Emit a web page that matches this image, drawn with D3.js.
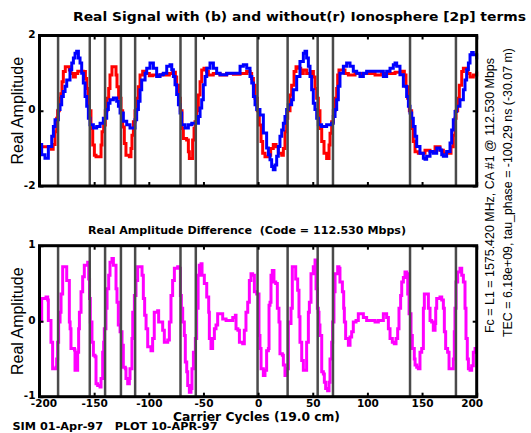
<!DOCTYPE html>
<html>
<head>
<meta charset="utf-8">
<script src="https://cdnjs.cloudflare.com/ajax/libs/d3/7.8.5/d3.min.js"></script>
<style>
  body { margin: 0; background: #fff; }
  svg { display: block; }
  .bold-label { font-family: "DejaVu Sans", Verdana, sans-serif; font-weight: bold; fill: #000; }
  .axis-name { font-family: "Liberation Sans", Arial, sans-serif; font-size: 16px; fill: #000; }
  .side-note { font-family: "Liberation Sans Narrow", "Liberation Sans", Arial, sans-serif; font-size: 12.5px; fill: #000; }
</style>
</head>
<body>
<svg id="chart" width="531" height="433"></svg>
<script>
/*global d3
 */

// carrier-cycle axis
const xTicks = [-200, -150, -100, -50, 0, 50, 100, 150, 200];
const topYTicks = [-2, 0, 2];
const bottomYTicks = [-1, 0, 1];

// chip transitions (carrier cycles)
const chipEdges = [-183, -154, -140, -125.5, -112.5, -71, -57, -0.5, 27, 54.5, 68.5, 139, 181];

// real signal without ionosphere (r)
const redSignal = [
  [-200, -0.96], [-191, -0.96], [-189, -1.02], [-187.5, -0.9], [-185.8, -0.56], [-184.3, -0.2], [-183.4, 0],
  [-181.9, 0.33], [-180.5, 0.45], [-179.4, 0.77], [-178.2, 1.04], [-176.4, 1.17], [-174.2, 1.17], [-172.7, 1.08],
  [-171.2, 0.99], [-169, 0.9], [-167.2, 0.99], [-165, 1.05], [-159.9, 1.04], [-158, 0.86], [-156.8, 0.59],
  [-155.6, 0.33], [-154.4, 0], [-152.9, -0.47], [-151.3, -0.91], [-149.8, -1.18], [-148.3, -1.22], [-145.3, -1.22],
  [-143.7, -0.91], [-142.8, -0.56], [-141.3, -0.38], [-139.8, 0], [-138.2, 0.33], [-136.7, 0.59], [-135.5, 0.95],
  [-133.7, 1.17], [-131.5, 1.17], [-130, 0.95], [-129.1, 0.64], [-127.6, 0.33], [-125.4, 0], [-123.9, -0.43],
  [-122.4, -0.87], [-120.9, -1.18], [-117.8, -1.22], [-116.3, -1.0], [-115.4, -0.65], [-114.1, -0.29], [-112.6, 0],
  [-111.1, 0.33], [-109.6, 0.64], [-108, 0.95], [-105.6, 1.05], [-102.5, 0.99], [-99.5, 0.93], [-96.5, 0.95],
  [-87.3, 0.97], [-84.3, 0.95], [-81.2, 0.99], [-78.2, 1.02], [-75.7, 0.9], [-74.5, 0.68], [-72.7, 0.33], [-71.1, 0],
  [-69.6, -0.47], [-68.4, -0.74], [-65.4, -0.78], [-63.8, -1.09], [-62.9, -1.27], [-60.8, -1.27], [-59.9, -0.78],
  [-58.6, -0.47], [-57.7, -0.29], [-56.2, 0], [-54.7, 0.42], [-53.1, 0.77], [-51.6, 1.08], [-49.5, 1.13], [-47, 1.04],
  [-45.5, 0.95], [-41, 0.99], [-34.9, 0.95], [-28.8, 0.99], [-22.6, 0.97], [-16.5, 0.99], [-10.5, 1.04], [-7.4, 0.99],
  [-5.9, 0.86], [-4.3, 0.68], [-2.8, 0.33], [-0.7, 0], [1.1, -0.38], [2.7, -0.82], [4.2, -1.13], [6.3, -1.22],
  [9.4, -1.18], [11.5, -1.0], [13.9, -0.9], [16.4, -0.96], [18.5, -1.13], [21.6, -1.18], [23.1, -1.0], [24.6, -0.56],
  [26.1, -0.2], [27.1, 0], [29.2, 0.42], [30.7, 0.68], [32.9, 1.04], [34.7, 1.17], [36.8, 1.13], [39, 0.99],
  [41.4, 1.08], [44.4, 0.99], [49, 1.04], [50.6, 0.9], [52.1, 0.59], [53.6, 0.33], [55.1, 0], [56.6, -0.47],
  [58.2, -0.82], [60.3, -1.13], [62.7, -1.27], [64.6, -1.27], [64.9, -0.91], [65.8, -0.6], [67.3, -0.29], [68.8, 0],
  [70.4, 0.33], [71.9, 0.59], [72.8, 0.95], [74, 1.08], [76.5, 1.08], [79.5, 0.99], [82.6, 0.95], [88.7, 0.99],
  [107, 0.95], [113, 0.99], [125.3, 1.02], [131.4, 1.05], [133.8, 0.95], [135.3, 0.64], [136.8, 0.33], [138.4, 0],
  [140.5, -0.47], [142, -0.82], [143.6, -1.09], [146.6, -1.13], [152.7, -1.05], [157.3, -1.09], [161.9, -0.96],
  [166.4, -1.05], [169.5, -1.13], [174.1, -1.13], [176.5, -0.96], [178.6, -0.65], [180.2, -0.2], [181.1, 0],
  [182.6, 0.33], [184.1, 0.68], [186.3, 1.04], [187.8, 1.13], [189.9, 1.13], [191.7, 0.99], [193.9, 0.9],
  [196.9, 0.95], [200, 1.04]
];

// real signal with ionosphere (b)
const blueSignal = [
  [-200, -0.9], [-198, -1.17], [-195, -1.26], [-191.9, -0.95], [-188.8, -0.68], [-187.3, -0.42], [-185.8, -0.24],
  [-182.7, 0.03], [-181.2, 0.16], [-179.7, 0.38], [-178.2, 0.51], [-176.6, 0.65], [-175.1, 0.82], [-172.1, 1.09],
  [-170.5, 1.27], [-169, 1.4], [-167.5, 1.53], [-166, 1.58], [-164.4, 1.4], [-162.9, 1.27], [-161.4, 1.0],
  [-159.9, 0.74], [-158.3, 0.38], [-156.8, 0.12], [-155.3, -0.2], [-153.8, -0.37], [-150.7, -0.46], [-147.7, -0.42],
  [-144.6, -0.33], [-141.6, -0.2], [-138.5, 0.03], [-137, 0.2], [-135.5, 0.29], [-132.4, 0.34], [-129.4, 0.25],
  [-127.8, 0.12], [-126.3, -0.06], [-123.3, -0.28], [-120.2, -0.37], [-117.2, -0.46], [-114.7, -0.46],
  [-112.6, -0.24], [-111.1, 0.03], [-109.5, 0.25], [-108, 0.56], [-106.5, 0.82], [-103.4, 1.0], [-101.9, 1.13],
  [-98.9, 1.27], [-97.3, 1.27], [-95.8, 1.13], [-92.8, 0.91], [-89.7, 0.96], [-86.7, 1.0], [-83.6, 1.18],
  [-80.6, 1.22], [-79, 1.09], [-77.5, 0.91], [-76, 0.69], [-74.5, 0.43], [-72.9, 0.16], [-71.4, -0.06],
  [-69.9, -0.37], [-66.8, -0.46], [-63.8, -0.37], [-60.7, -0.33], [-56.2, -0.33], [-54.6, -0.15], [-53.1, 0.07],
  [-51.6, 0.29], [-50.1, 0.69], [-48.5, 0.91], [-47, 1.13], [-44, 1.27], [-42.4, 1.27], [-40.9, 1.13], [-37.9, 1.0],
  [-34.8, 0.96], [-28.7, 1.0], [-19.6, 1.0], [-16.5, 1.18], [-13.5, 1.22], [-10.4, 1.13], [-7.4, 0.91],
  [-5.8, 0.74], [-4.3, 0.38], [-2.8, 0.16], [-1.3, 0.03], [1.7, -0.11], [4.8, -0.59], [7.8, -0.99], [9.4, -1.17],
  [10.9, -1.3], [12.4, -1.48], [13.9, -1.57], [15.5, -1.44], [17, -1.21], [18.5, -0.95], [20, -0.68], [21.6, -0.51],
  [23.1, -0.33], [24.6, -0.15], [26.1, 0.03], [27.6, 0.16], [30.7, 0.29], [32.2, 0.56], [35.3, 0.91], [38.3, 1.31],
  [41.4, 1.53], [42.9, 1.58], [44.4, 1.4], [46, 1.18], [47.5, 0.91], [49, 0.56], [50.5, 0.2], [52, 0.03],
  [53.6, -0.2], [55.1, -0.37], [58.1, -0.42], [62.7, -0.37], [67.3, -0.33], [68.8, -0.15], [70.4, 0.03],
  [71.9, 0.29], [73.4, 0.65], [74.9, 1.0], [78, 1.18], [81, 1.27], [82.6, 1.27], [84.1, 1.18], [87.1, 1.05],
  [90.2, 1.0], [93.2, 0.91], [96.3, 1.0], [99.3, 1.05], [111.5, 1.05], [114.6, 0.91], [117.6, 1.05], [120.7, 1.13],
  [123.7, 1.22], [125.3, 1.27], [126.8, 1.18], [129.8, 0.96], [132.9, 0.65], [135.9, 0.38], [137.5, 0.12],
  [139, -0.06], [140.5, -0.2], [142, -0.42], [143.6, -0.68], [145.1, -0.95], [148.1, -1.13], [151.2, -1.26],
  [152.7, -1.29], [154.2, -1.21], [157.3, -1.08], [160.3, -1.13], [163.4, -0.99], [166.4, -1.04], [168, -1.17],
  [169.5, -1.21], [172.5, -1.08], [175.6, -0.86], [177.1, -0.51], [178.6, -0.24], [180.2, -0.02], [181.7, 0.12],
  [184.7, 0.29], [187.8, 0.56], [189.3, 0.82], [190.8, 1.09], [192.4, 1.27], [193.9, 1.49], [195.4, 1.55],
  [196.9, 1.49], [200, 1.36]
];

// real amplitude difference
const diffSignal = [
  [-200, 0], [-198.5, 0], [-198, 0.3], [-194, 0.32], [-192.5, 0.28], [-191.9, 0.01], [-190.5, 0.01], [-189.5, -0.28],
  [-188.5, -0.28], [-188, -0.63], [-184.9, -0.61], [-184.3, -0.5], [-183.4, -0.28], [-182.5, -0.01], [-181.2, 0.12],
  [-180.3, 0.36], [-178.8, 0.72], [-175.7, 0.72], [-175.1, 0.54], [-173.3, 0.54], [-172.7, -0.01], [-172, -0.1],
  [-171.2, -0.36], [-168, -0.38], [-167.5, -0.65], [-166, -0.65], [-165.1, -0.41], [-164.2, -0.1], [-163.5, 0.12],
  [-162, 0.39], [-160.5, 0.59], [-159, 0.74], [-155.9, 0.78], [-155, 0.56], [-154.2, 0.3], [-153.5, -0.01],
  [-152, -0.28], [-150.7, -0.45], [-149.2, -0.47], [-148.3, -0.83], [-146.8, -0.85], [-144.6, -0.87], [-143.7, -0.76],
  [-142.2, -0.41], [-141.3, -0.28], [-140.7, -0.1], [-139.2, 0.17], [-138.2, 0.43], [-136.7, 0.61], [-135.5, 0.78],
  [-133.7, 0.83], [-132.4, 0.74], [-131.2, 0.74], [-130, 0.43], [-129.1, 0.25], [-127.9, -0.05], [-126.3, -0.14],
  [-124.5, -0.32], [-123.3, -0.61], [-121.5, -0.63], [-120.9, -0.76], [-119.3, -0.83], [-117.8, -0.76],
  [-117.2, -0.63], [-115.4, -0.23], [-114.7, 0.12], [-113.2, 0.34], [-111.7, 0.54], [-110.2, 0.72], [-107.1, 0.72],
  [-106.2, 0.61], [-105, 0.3], [-103.8, 0.08], [-102.5, -0.1], [-101, -0.34], [-98, -0.39], [-96.5, -0.23],
  [-95, 0.12], [-91.9, 0.14], [-91, -0.01], [-88.8, -0.01], [-87.3, -0.12], [-85.8, -0.28], [-82.7, -0.25],
  [-81.2, -0.01], [-79.7, 0.34], [-78.2, 0.54], [-76.6, 0.7], [-73.6, 0.72], [-72.1, 0.7], [-71.1, 0.34],
  [-70.2, 0.17], [-69, -0.01], [-67.5, -0.19], [-66.6, -0.54], [-65.3, -0.67], [-64.4, -0.85], [-62.9, -0.94],
  [-61.4, -0.89], [-60.5, -0.63], [-59.2, -0.41], [-57.4, -0.23], [-56.2, 0.17], [-54.9, 0.61], [-53.8, 0.74],
  [-52.2, 0.76], [-51.3, 0.61], [-49.2, 0.5], [-47, 0.32], [-45.2, 0.12], [-44.6, -0.23], [-43.1, -0.36],
  [-41.6, -0.23], [-40, -0.1], [-38.5, -0.05], [-37, 0.1], [-33.9, 0.1], [-32.4, 0.03], [-29.3, 0.01], [-26.3, 0.01],
  [-23.2, 0.05], [-20.8, 0.08], [-20.2, -0.1], [-18.5, -0.12], [-17.1, -0.28], [-14.1, -0.3], [-12.6, -0.12],
  [-11.1, 0.12], [-9.5, 0.25], [-8, 0.54], [-6.5, 0.63], [-5, 0.61], [-3.4, 0.39], [-1.3, 0.36], [0.8, -0.19],
  [1.7, -0.36], [2.7, -0.63], [4.8, -0.72], [6.3, -0.65], [7.8, -0.39], [9.4, -0.36], [10, 0.21], [10.9, 0.25],
  [11.8, 0.61], [13, 0.67], [14.5, 0.52], [16.1, 0.5], [17.6, 0.17], [19.1, -0.01], [20, -0.43], [22.2, -0.45],
  [23.1, -0.58], [24.6, -0.72], [26.1, -0.63], [27.7, -0.01], [29.2, -0.03], [30.1, 0.17], [31.3, 0.72],
  [33.8, 0.72], [34.4, 0.56], [36.2, 0.41], [37.4, 0.06], [38.3, -0.28], [39.9, -0.52], [41.4, -0.65], [43, -0.65],
  [44.4, -0.28], [46, 0.12], [46.9, 0.25], [48.4, 0.63], [50.5, 0.72], [52.1, 0.81], [53, 0.43], [54.2, 0.17],
  [55.1, 0.12], [55.7, -0.05], [56.6, -0.19], [58.2, -0.67], [59.7, -0.7], [60.6, -0.81], [61.8, -0.89],
  [63.6, -0.92], [64.9, -0.81], [65.8, -0.5], [67.3, -0.28], [68.2, -0.01], [69.4, 0.39], [70.4, 0.63], [72.8, 0.72],
  [74, 0.7], [74.9, 0.52], [77.1, 0.39], [78.3, 0.17], [78.9, -0.01], [80.1, -0.23], [82.6, -0.32], [84.1, -0.21],
  [85.6, -0.14], [87.1, -0.01], [89.6, 0.01], [91.7, 0.1], [94.8, 0.1], [96.3, 0.05], [99.3, 0.01], [105.4, 0.01],
  [107, -0.01], [110, 0.01], [114.6, 0.1], [117.6, 0.05], [119.2, -0.1], [120.7, -0.23], [122.8, -0.28],
  [124.6, -0.3], [126.2, -0.23], [127.7, -0.1], [128.9, 0.17], [130.4, 0.34], [131.4, 0.52], [132.9, 0.58],
  [134.4, 0.65], [136, 0.63], [136.9, 0.36], [138.1, 0.1], [139.9, -0.19], [141.1, -0.36], [142.9, -0.5],
  [143.6, -0.58], [145.1, -0.61], [146.6, -0.63], [148.1, -0.41], [149.7, -0.36], [151.2, 0.17], [152.1, 0.36],
  [154.2, 0.36], [155.8, 0.17], [157.3, 0.01], [158.8, -0.01], [160.3, -0.12], [161.9, -0.03], [162.5, 0.17],
  [163.4, 0.3], [166.4, 0.32], [168, 0.28], [169.5, 0.17], [170.4, -0.14], [171.6, -0.36], [173.4, -0.41],
  [174.7, -0.63], [177.1, -0.63], [178.6, -0.5], [179.5, -0.14], [180.1, 0.17], [181.1, 0.52], [182.6, 0.65],
  [184.7, 0.7], [186.3, 0.61], [187.8, 0.52], [189.3, 0.17], [190.2, -0.23], [191.4, -0.5], [192.4, -0.63],
  [193.9, -0.65], [195.4, -0.59], [196.9, -0.41], [198.5, -0.36], [200, -0.36]
];

const plotLeft = 39.5;
const plotRight = 476.7;

class SignalPanel {
  constructor(svg, top, height, yTicks, showXLabels) {
    this.height = height;
    this.yTicks = yTicks;
    this.showXLabels = showXLabels;
    this.group = svg.append("g")
      .attr("transform", "translate(0," + top + ")");

    this.x = d3.scaleLinear()
      .domain([xTicks[0], xTicks[xTicks.length - 1]])
      .range([plotLeft, plotRight]);
    this.y = d3.scaleLinear()
      .domain([yTicks[0], yTicks[yTicks.length - 1]])
      .range([height, 0]);
  }

  drawSeries(points, color) {
    let self = this;
    let line = d3.line()
      .x(d => self.x(d[0]))
      .y(d => self.y(d[1]))
      .curve(d3.curveStepAfter);

    this.group.append("path")
      .datum(points)
      .attr("d", line)
      .attr("fill", "none")
      .attr("stroke", color)
      .attr("stroke-width", 3);
  }

  drawChipEdges(edges) {
    let self = this;
    this.group.selectAll("line.chip-edge")
      .data(edges)
      .enter()
      .append("line")
      .classed("chip-edge", true)
      .attr("x1", d => self.x(d))
      .attr("x2", d => self.x(d))
      .attr("y1", 0)
      .attr("y2", this.height)
      .attr("stroke", "#4a4a4a")
      .attr("stroke-width", 2.5);
  }

  drawFrame() {
    let group = this.group;
    let label = d => String(d);

    let bottomAxis = d3.axisBottom(this.x).tickValues(xTicks).tickSize(-4).tickPadding(2.5);
    bottomAxis.tickFormat(this.showXLabels ? label : "");

    let bottom = group.append("g")
      .attr("transform", "translate(0," + this.height + ")")
      .call(bottomAxis);
    group.append("g")
      .call(d3.axisTop(this.x).tickValues(xTicks).tickSize(-4).tickFormat(""));
    let left = group.append("g")
      .attr("transform", "translate(" + plotLeft + ",0)")
      .call(d3.axisLeft(this.y).tickValues(this.yTicks).tickSize(-4).tickPadding(4).tickFormat(label));
    group.append("g")
      .attr("transform", "translate(" + plotRight + ",0)")
      .call(d3.axisRight(this.y).tickValues(this.yTicks).tickSize(-4).tickFormat(""));

    group.selectAll(".domain").remove();
    group.selectAll(".tick line")
      .attr("stroke", "#000")
      .attr("stroke-width", 2);
    group.selectAll(".tick text")
      .classed("bold-label", true)
      .attr("font-size", null)
      .style("font-size", "10.5px");

    // end labels sit a little inside the frame, as in the original plot
    left.selectAll(".tick text").attr("dy", "0.2em");
    bottom.selectAll(".tick text")
      .attr("dx", (d, i) => i === 0 ? 4 : (i === xTicks.length - 1 ? -5 : 0));

    group.append("rect")
      .attr("x", plotLeft)
      .attr("y", 0)
      .attr("width", plotRight - plotLeft)
      .attr("height", this.height)
      .attr("fill", "none")
      .attr("stroke", "#000")
      .attr("stroke-width", 3);
  }

  addAxisName(text, xPos) {
    this.group.append("text")
      .classed("axis-name", true)
      .attr("transform", "translate(" + xPos + "," + (this.height / 2) + ")rotate(-90)")
      .attr("text-anchor", "middle")
      .text(text);
  }
}

let svg = d3.select("#chart");

svg.append("rect")
  .attr("width", 531)
  .attr("height", 433)
  .attr("fill", "#fff");

// upper panel: signals
let upper = new SignalPanel(svg, 35.5, 150.5, topYTicks, false);
upper.drawSeries(redSignal, "#ff0000");
upper.drawSeries(blueSignal, "#0000ff");
upper.drawChipEdges(chipEdges);
upper.drawFrame();
upper.addAxisName("Real Amplitude", 23);

// lower panel: difference
let lower = new SignalPanel(svg, 245.7, 151, bottomYTicks, true);
lower.drawSeries(diffSignal, "#ff00ff");
lower.drawChipEdges(chipEdges);
lower.drawFrame();
lower.addAxisName("Real Amplitude", 23);

let addText = function (text, x, y, size, length) {
  let t = svg.append("text")
    .classed("bold-label", true)
    .attr("x", x)
    .attr("y", y)
    .style("font-size", size + "px")
    .style("white-space", "pre")
    .text(text);
  if (length) {
    t.attr("textLength", length).attr("lengthAdjust", "spacingAndGlyphs");
  }
  return t;
};

addText("Real Signal with (b) and without(r) Ionosphere [2p] terms", 73, 21, 13, 453);
addText("Real Amplitude Difference  (Code = 112.530 Mbps)", 88, 233.5, 10.5, 318);
addText("Carrier Cycles (19.0 cm)", 173, 420.5, 11.5, 167);
addText("SIM 01-Apr-97   PLOT 10-APR-97", 12.5, 429.5, 11, 205);

// run parameters along the right edge
svg.append("text")
  .classed("side-note", true)
  .attr("transform", "translate(494,333)rotate(-90)")
  .attr("textLength", 275)
  .attr("lengthAdjust", "spacingAndGlyphs")
  .text("Fc = L1 = 1575.420 MHz, CA #1 @ 112.530 Mbps");

svg.append("text")
  .classed("side-note", true)
  .attr("transform", "translate(512,337)rotate(-90)")
  .attr("textLength", 289)
  .attr("lengthAdjust", "spacingAndGlyphs")
  .text("TEC = 6.18e+09, tau_phase = -100.29 ns (-30.07 m)");
</script>
</body>
</html>
